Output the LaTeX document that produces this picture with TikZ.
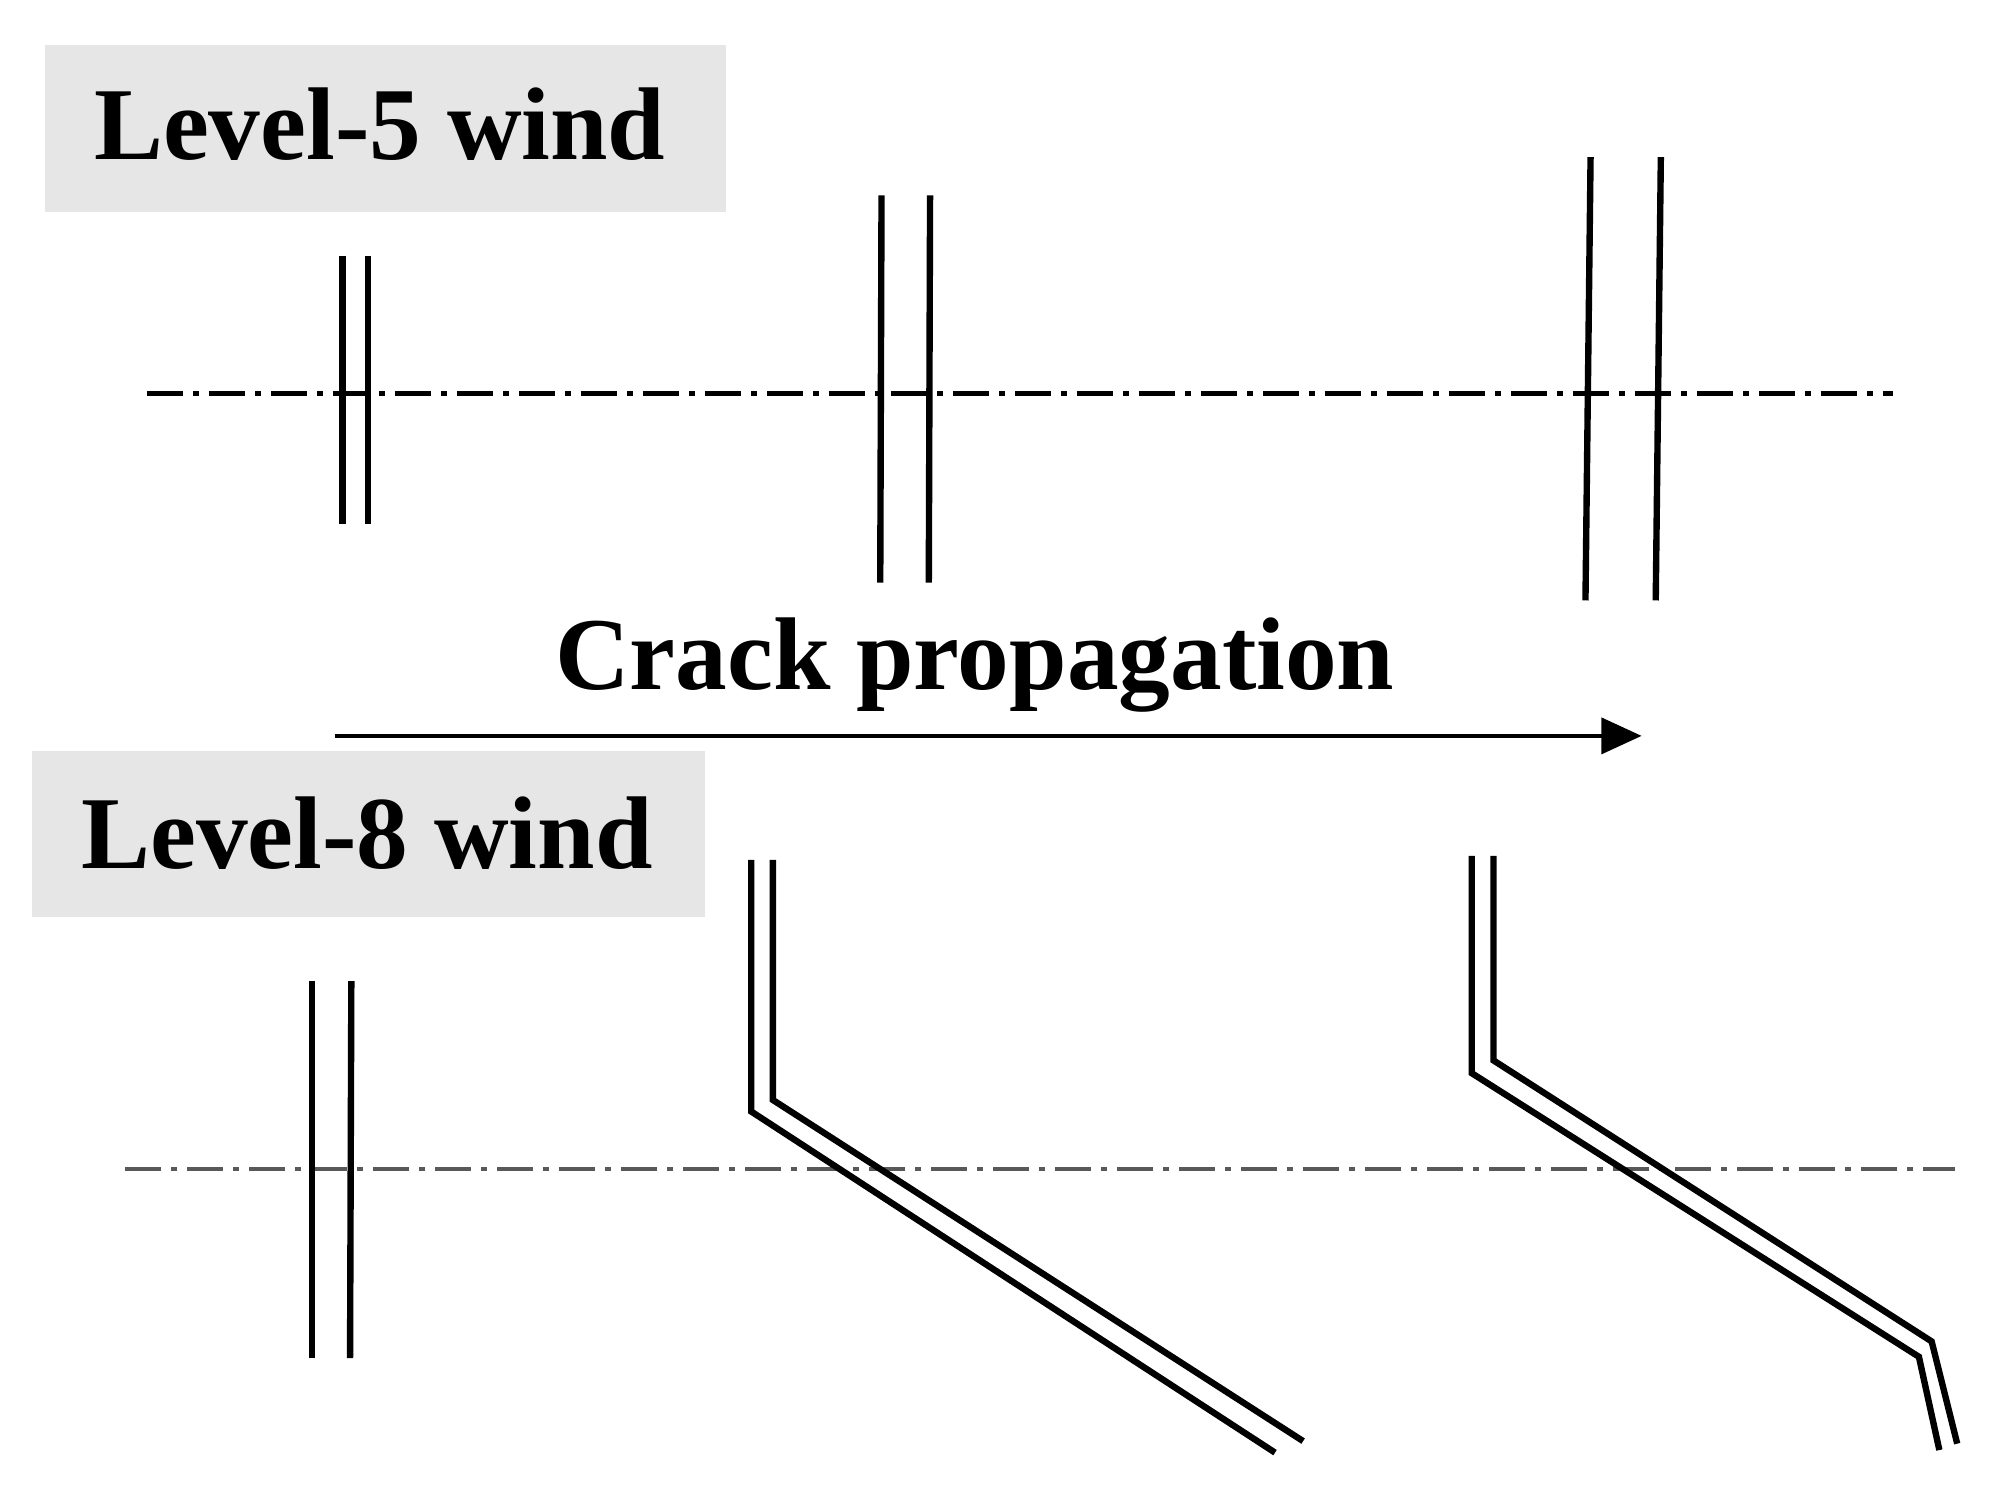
\documentclass[tikz,border=0pt]{standalone}
\usepackage{fontspec}
\setmainfont{Liberation Serif}
\usetikzlibrary{arrows.meta}
\definecolor{boxgray}{RGB}{230,230,230}
\begin{document}
\begin{tikzpicture}[x=0.01cm,y=-0.01cm,
  crack/.style={line width=1.42pt,line join=miter},
  axis/.style={line width=0.9pt,dash pattern=on 8pt off 2.3pt on 1.2pt off 2.3pt},
  lbl/.style={font=\fontsize{23}{26}\bfseries\selectfont,inner sep=0pt}]
\useasboundingbox (0,0) rectangle (1560,1166);
% boxes
\fill[boxgray] (35,35) rectangle (568,166);
\node[lbl,anchor=base west] (l5) at (73,125) {Level-5 wind};
\fill[boxgray] (25,588) rectangle (552,718);
\node[lbl,anchor=base west] (l8) at (63,680) {Level-8 wind};
% centerlines
\coordinate (a1) at (115,308); \coordinate (a2) at (1482,308);
\draw[axis] (a1) -- (a2);
\coordinate (b1) at (98,915); \coordinate (b2) at (1530,915);
\draw[axis,gray!70!black] (b1) -- (b2);
% arrow
\node[lbl,anchor=base] (cp) at (763,540) {Crack propagation};
\coordinate (s) at (262,576); \coordinate (e) at (1285,576);
\draw[line width=1pt,-{Triangle[length=9pt,width=8pt]}] (s) -- (e);
% top cracks
\draw[crack] (268,200) -- (268,410); \draw[crack] (288,200) -- (288,410);
\draw[crack] (690,153) -- (689,456); \draw[crack] (728,153) -- (727,456);
\draw[crack] (1245,123) -- (1241,470); \draw[crack] (1300,123) -- (1296,470);
% bottom cracks
\draw[crack] (244,768) -- (244,1063); \draw[crack] (275,768) -- (274,1063);
\draw[crack] (588,673) -- (588,870) -- (998,1137);
\draw[crack] (605,673) -- (605,861) -- (1020,1128);
\draw[crack] (1152,670) -- (1152,840) -- (1502,1062) -- (1518,1135);
\draw[crack] (1169,670) -- (1169,830) -- (1512,1050) -- (1532,1130);
\end{tikzpicture}
\end{document}
